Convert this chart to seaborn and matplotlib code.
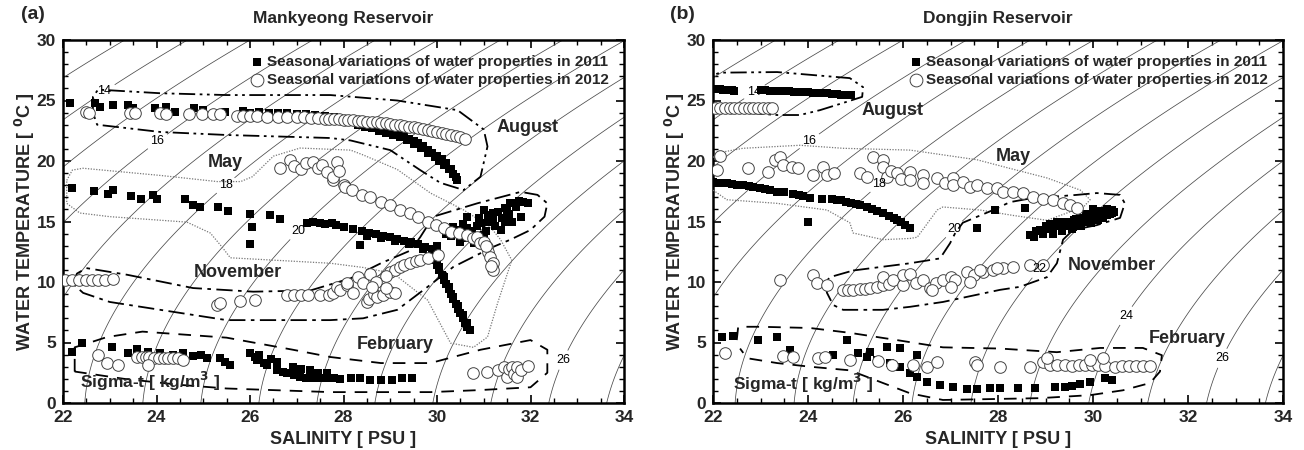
import numpy as np
import pandas as pd
import matplotlib
matplotlib.use("Agg")
import matplotlib.pyplot as plt
import seaborn as sns
from matplotlib.ticker import MultipleLocator

sns.set_theme(style="white")
plt.rcParams["font.family"] = ["Liberation Sans", "DejaVu Sans"]
plt.rcParams["font.weight"] = "bold"

# ---------------- Panel (a) Mankyeong ----------------
a_aug11_S = [22.15, 22.69, 22.8, 23.07, 23.4, 23.5, 23.97, 24.2, 24.4, 24.8, 25.0, 25.47, 25.85, 26.0, 26.2,
             26.4, 26.6, 26.8, 27.0, 27.2, 27.4, 27.6, 27.8, 28.0, 28.1, 28.2, 28.3, 28.4, 28.5, 28.6, 28.7,
             28.8, 28.9, 29.0, 29.1, 29.2, 29.3, 29.4, 29.5, 29.6, 29.7, 29.8, 29.9, 30.0, 30.1, 30.2, 30.3,
             30.35, 30.4, 30.42, 28.3, 28.6, 28.9, 29.2, 29.5, 29.8, 30.05, 30.25, 28.45, 28.75, 29.05,
             29.35, 29.65, 29.95, 30.15]
a_aug11_T = [24.8, 24.8, 24.5, 24.6, 24.6, 24.4, 24.4, 24.5, 24.05, 24.4, 24.2, 24.05, 24.1, 24.0, 24.05,
             24.0, 23.95, 23.95, 23.9, 23.85, 23.8, 23.7, 23.6, 23.5, 23.45, 23.35, 23.25, 23.15, 23.05, 22.95, 22.85,
             22.75, 22.6, 22.5, 22.35, 22.2, 22.05, 21.85, 21.65, 21.45, 21.2, 20.95, 20.7, 20.45, 20.15, 19.85, 19.3,
             18.95, 18.65, 18.4, 23.0, 22.7, 22.35, 21.95, 21.4, 20.7, 20.0, 19.3, 22.85, 22.5, 22.15,
             21.7, 21.1, 20.35, 19.7]
a_aug12_S = [22.5, 22.55, 23.43, 23.55, 24.08, 24.2, 24.7, 24.98, 25.2, 25.35, 25.73, 25.85, 26.0, 26.15, 26.37,
             26.6, 26.8, 27.0, 27.15, 27.3, 27.46, 27.6, 27.7, 27.8, 27.9, 28.0, 28.1, 28.2, 28.3, 28.4, 28.5,
             28.6, 28.72, 28.8, 28.9, 29.0, 29.1, 29.2, 29.3, 29.4, 29.5, 29.6, 29.7, 29.8, 29.9, 30.0, 30.1,
             30.2, 30.3, 30.4, 30.5, 30.6]
a_aug12_T = [24.05, 24.0, 24.0, 23.95, 23.95, 23.9, 23.9, 23.9, 23.9, 23.9, 23.75, 23.75, 23.75, 23.75, 23.65,
             23.65, 23.6, 23.6, 23.6, 23.55, 23.55, 23.5, 23.48, 23.46, 23.44, 23.42, 23.4, 23.37, 23.33, 23.3, 23.26,
             23.22, 23.2, 23.15, 23.1, 23.05, 23.0, 22.95, 22.9, 22.85, 22.8, 22.72, 22.65, 22.57, 22.5, 22.42, 22.35,
             22.27, 22.18, 22.08, 21.97, 21.85]
a_may11_S = [22.2, 22.66, 22.96, 23.07, 23.46, 23.67, 23.93, 24.0, 24.6, 24.78, 24.93, 25.32, 25.53, 26.0, 26.05,
             26.0, 26.43, 26.65, 27.22, 27.35, 27.5, 27.6, 27.75, 27.85, 28.0, 28.36, 28.2, 28.4, 28.55, 28.7, 28.85,
             29.0, 29.15, 29.3, 29.45, 29.6, 29.75, 29.9, 30.0, 28.5, 28.8, 29.1, 29.4, 29.7]
a_may11_T = [17.8, 17.5, 17.3, 17.6, 17.1, 16.9, 17.2, 16.85, 16.85, 16.4, 16.2, 16.2, 15.9, 15.6, 14.55,
             13.1, 15.5, 15.2, 14.9, 14.95, 14.9, 14.8, 14.85, 14.7, 14.55, 13.05, 14.4, 14.2, 14.05, 13.95, 13.8,
             13.7, 13.55, 13.4, 13.3, 13.1, 12.9, 12.7, 12.5, 13.8, 13.6, 13.35, 13.1, 12.75]
a_may12_S = [26.65, 26.86, 26.95, 27.1, 27.2, 27.35, 27.45, 27.55, 27.65, 27.78, 27.78, 27.87, 27.9, 28.0, 28.04,
             28.19, 28.4, 28.57, 28.8, 29.0, 29.2, 29.43, 29.6, 29.8, 29.97, 30.14, 30.29, 30.46, 30.65, 30.78,
             30.86, 30.93, 31.0, 31.08, 31.1, 31.14, 31.19, 31.19, 31.15, 31.05]
a_may12_T = [19.4, 20.1, 19.6, 19.3, 19.8, 19.9, 19.4, 19.7, 19.1, 18.4, 18.7, 19.9, 19.2, 18.0, 17.85,
             17.6, 17.2, 17.0, 16.6, 16.35, 15.95, 15.7, 15.4, 14.95, 14.7, 14.45, 14.15, 14.05, 13.9, 13.6,
             13.7, 13.2, 13.3, 12.9, 12.5, 12.05, 11.55, 11.0, 11.3, 13.0]
a_nov11_S = [29.9, 29.95, 30.0, 30.05, 30.1, 30.15, 30.2, 30.25, 30.3, 30.35, 30.4, 30.45, 30.5, 30.55, 30.6,
             30.65, 30.7, 30.0, 30.2, 30.35, 30.5, 30.5, 30.65, 30.65, 30.7, 30.86, 30.86, 30.9, 31.0, 31.05,
             31.1, 31.2, 31.25, 31.36, 31.4, 31.45, 31.57, 31.55, 31.7, 31.79, 31.85, 31.94, 31.6, 30.8,
             30.3, 30.6, 30.75, 30.95, 31.1, 31.3, 31.5, 31.65, 31.75, 30.55, 30.4, 31.2, 31.45, 31.0,
             29.95, 30.05, 30.15, 30.25, 30.35, 30.45, 30.55, 30.65]
a_nov11_T = [12.2, 11.8, 11.4, 11.0, 10.6, 10.2, 9.8, 9.4, 9.0, 8.6, 8.2, 7.8, 7.4, 7.0, 6.6,
             6.3, 6.0, 13.0, 14.0, 14.55, 13.3, 14.0, 15.4, 14.5, 13.8, 13.7, 14.6, 15.3, 15.95, 14.2,
             15.0, 15.7, 14.6, 14.3, 15.3, 16.1, 16.5, 15.6, 16.2, 15.4, 16.6, 16.5, 15.0, 13.2,
             13.8, 13.6, 14.2, 14.9, 15.5, 15.8, 15.9, 16.5, 16.7, 14.8, 14.3, 15.1, 15.0, 13.9,
             12.0, 11.2, 10.4, 9.6, 8.8, 8.0, 7.3, 6.6]
a_nov12_S = [22.04, 22.2, 22.35, 22.5, 22.62, 22.75, 22.9, 23.07, 25.3, 25.36, 25.79, 26.1, 26.8, 26.95, 27.1,
             27.25, 27.5, 27.7, 27.78, 27.87, 27.93, 28.08, 28.08, 28.21, 28.3, 28.42, 28.51, 28.55, 28.57, 28.65,
             28.72, 28.8, 28.85, 29.0, 29.0, 29.1, 29.1, 29.2, 29.3, 29.43, 29.55, 29.64, 29.8, 30.03, 28.9,
             28.7, 28.6, 28.9]
a_nov12_T = [10.15, 10.2, 10.2, 10.2, 10.2, 10.2, 10.2, 10.25, 8.1, 8.25, 8.45, 8.5, 8.9, 8.9, 8.9,
             8.9, 8.9, 8.95, 9.1, 9.6, 9.35, 9.75, 9.9, 9.1, 10.4, 9.9, 8.35, 8.6, 10.7, 9.0,
             8.75, 10.15, 8.9, 9.2, 10.8, 9.1, 11.0, 11.25, 11.4, 11.55, 11.7, 11.8, 12.0, 12.2, 10.5,
             10.0, 9.6, 9.5]
a_feb11_S = [22.2, 22.4, 23.05, 23.4, 23.58, 23.82, 24.08, 24.36, 24.57, 24.78, 24.95, 25.08, 25.36, 25.47, 25.58,
             26.0, 26.1, 26.15, 26.2, 26.3, 26.37, 26.45, 26.58, 26.58, 26.7, 26.8, 26.92, 26.95, 27.07, 27.1,
             27.2, 27.29, 27.35, 27.45, 27.5, 27.65, 27.65, 27.8, 27.93, 28.15, 28.36, 28.57, 28.8, 29.04, 29.26,
             29.47]
a_feb11_T = [4.2, 4.95, 4.65, 4.15, 4.45, 4.2, 4.1, 3.95, 4.1, 3.9, 4.0, 3.7, 3.7, 3.4, 3.15,
             4.15, 3.8, 3.55, 3.95, 3.3, 3.15, 3.6, 2.75, 3.4, 2.6, 2.45, 3.0, 2.3, 2.15, 2.8,
             2.1, 2.7, 2.05, 2.5, 2.05, 2.05, 2.45, 2.1, 2.0, 2.05, 2.05, 1.9, 1.9, 1.9, 2.05,
             2.05]
a_feb12_S = [22.75, 22.94, 23.18, 23.58, 23.68, 23.78, 23.85, 23.95, 24.05, 24.15, 24.25, 24.35, 24.45, 24.57, 23.82,
             30.78, 31.08, 31.3, 31.43, 31.5, 31.55, 31.6, 31.65, 31.72, 31.72, 31.8, 31.94]
a_feb12_T = [3.95, 3.3, 3.15, 3.8, 3.8, 3.8, 3.8, 3.75, 3.75, 3.75, 3.7, 3.7, 3.7, 3.55, 3.1,
             2.45, 2.55, 2.7, 3.0, 2.15, 2.8, 3.0, 2.4, 3.0, 2.15, 2.7, 3.05]

# outlines (a)
a_aug_line_S = [22.64, 22.64, 22.75, 24.08, 25.5, 26.9, 27.72, 29.15, 30.44, 31.0, 31.08, 30.93, 30.57, 30.07,
                29.64, 29.0, 28.15, 27.72, 25.5, 24.08, 22.73, 22.64]
a_aug_line_T = [24.0, 25.3, 25.9, 25.6, 25.45, 25.45, 25.45, 25.0, 24.2, 22.6, 21.2, 18.7, 17.6, 18.2,
                19.25, 20.9, 21.7, 21.9, 22.15, 22.4, 23.0, 24.0]
a_may_line_S = [22.08, 22.2, 22.43, 24.1, 25.3, 25.8, 26.05, 26.5, 27.07, 28.15, 28.42, 29.15, 29.86, 30.57,
                31.14, 31.36, 31.6, 31.3, 31.08, 30.78, 30.29, 29.8, 29.07, 28.42, 27.72, 25.58, 25.4, 25.15,
                24.65, 23.0, 22.36, 22.08, 22.08]
a_may_line_T = [18.4, 19.25, 19.4, 18.8, 18.3, 18.3, 18.7, 20.4, 21.07, 20.9, 20.5, 19.3, 17.35, 15.95,
                14.55, 13.5, 11.8, 8.3, 5.45, 4.6, 4.95, 8.5, 10.7, 11.2, 11.55, 12.0, 12.9, 14.05,
                14.95, 15.4, 15.7, 16.5, 18.4]
a_nov_line_S = [22.2, 22.3, 22.5, 23.37, 24.78, 26.07, 27.29, 28.15, 28.8, 29.43, 29.64, 29.92, 30.86, 31.79,
                32.15, 32.36, 32.3, 32.0, 31.57, 31.2, 30.35, 29.8, 29.15, 28.42, 27.72, 25.5, 24.08, 23.0,
                22.43, 22.2]
a_nov_line_T = [9.9, 10.7, 11.15, 10.6, 9.5, 9.2, 9.3, 10.3, 11.55, 12.6, 13.7, 15.4, 16.5, 17.45,
                17.2, 16.5, 15.4, 14.3, 13.5, 12.9, 11.25, 9.6, 7.7, 7.0, 6.85, 6.85, 7.7, 8.35,
                9.1, 9.9]
a_feb_line_S = [22.25, 22.25, 22.5, 22.94, 23.7, 25.5, 26.92, 27.72, 28.8, 29.86, 30.93, 32.0, 32.36, 32.36,
                32.0, 30.93, 29.86, 27.72, 25.5, 24.5, 23.3, 22.25]
a_feb_line_T = [2.6, 4.6, 4.9, 5.45, 5.9, 5.4, 4.4, 3.8, 3.3, 3.3, 4.4, 5.2, 4.4, 2.5,
                1.3, 1.07, 0.9, 0.9, 1.2, 1.5, 2.0, 2.6]

# ---------------- Panel (b) Dongjin ----------------
b_aug11_S = [22.0, 22.05, 22.1, 22.15, 22.2, 22.25, 22.3, 22.35, 22.4, 22.45, 23.0, 23.1, 23.2, 23.3, 23.4,
             23.5, 23.6, 23.7, 23.8, 23.9, 24.0, 24.1, 24.2, 24.3, 24.4, 24.5, 24.6, 24.7, 24.8, 24.9]
b_aug11_T = [25.95, 25.95, 25.93, 25.92, 25.9, 25.9, 25.88, 25.86, 25.85, 25.82, 25.85, 25.83, 25.82, 25.8, 25.78,
             25.76, 25.75, 25.73, 25.71, 25.69, 25.67, 25.65, 25.63, 25.6, 25.58, 25.55, 25.52, 25.48, 25.45, 25.42]
b_aug12_S = [22.05, 22.15, 22.25, 22.35, 22.45, 22.55, 22.65, 22.75, 22.85, 22.95, 23.05, 23.15, 23.25]
b_aug12_T = [24.4, 24.4, 24.4, 24.4, 24.4, 24.4, 24.4, 24.4, 24.4, 24.4, 24.4, 24.4, 24.4]
b_may11_S = [22.0, 22.1, 22.21, 22.3, 22.4, 22.5, 22.63, 22.75, 22.85, 22.99, 23.1, 23.2, 23.35, 23.5, 23.68,
             23.8, 23.9, 24.04, 24.29, 24.5, 24.6, 24.7, 24.8, 24.9, 25.0, 25.1, 25.24, 25.35, 25.45, 25.58,
             25.7, 25.8, 25.87, 25.95, 26.05, 26.15, 24.0]
b_may11_T = [18.3, 18.2, 18.2, 18.15, 18.1, 18.05, 18.0, 17.9, 17.85, 17.8, 17.7, 17.6, 17.45, 17.4, 17.3,
             17.2, 17.1, 16.95, 16.9, 16.85, 16.8, 16.75, 16.65, 16.55, 16.45, 16.35, 16.2, 16.05, 15.9, 15.7,
             15.45, 15.25, 15.1, 14.95, 14.75, 14.5, 15.0]
b_may12_S = [22.15, 22.08, 22.74, 23.16, 23.3, 23.41, 23.47, 23.66, 23.79, 24.1, 24.31, 24.4, 24.55, 25.09, 25.24,
             25.37, 25.58, 25.58, 25.66, 25.75, 25.87, 25.95, 26.15, 26.15, 26.42, 26.42, 26.72, 26.88, 27.05,
             27.05, 27.26, 27.41, 27.55, 27.77, 27.98, 28.1, 28.32, 28.53, 28.74, 28.95, 29.16, 29.37, 29.52,
             29.66]
b_may12_T = [20.4, 19.25, 19.4, 19.1, 20.1, 20.35, 19.65, 19.5, 19.4, 18.85, 19.5, 18.85, 19.0, 19.0, 18.7,
             20.35, 20.1, 19.5, 18.7, 19.2, 19.0, 18.55, 19.1, 18.4, 18.85, 18.2, 18.6, 18.2, 18.6,
             18.0, 18.3, 17.85, 18.0, 17.75, 17.75, 17.45, 17.45, 17.35, 17.0, 16.9, 16.8, 16.5, 16.35,
             16.1]
b_nov11_S = [27.55, 27.94, 28.57, 28.67, 28.8, 28.88, 29.0, 29.09, 29.16, 29.2, 29.3, 29.37, 29.45, 29.52, 29.58,
             29.65, 29.73, 29.8, 29.85, 29.94, 30.0, 30.05, 30.15, 30.25, 30.3, 30.4, 30.45, 29.1, 29.25,
             28.75, 28.95, 29.15, 29.35, 29.55, 29.75, 29.95, 30.1, 30.2, 30.35, 29.6, 29.9, 30.1, 30.3,
             30.4, 29.4, 29.0]
b_nov11_T = [14.45, 15.95, 16.1, 13.9, 14.2, 14.3, 14.35, 14.45, 14.15, 14.6, 14.7, 15.0, 14.6, 14.95, 14.55,
             15.2, 15.3, 15.0, 15.6, 15.5, 16.0, 15.3, 15.7, 15.9, 15.5, 15.95, 15.8, 14.8, 15.0,
             13.7, 13.95, 14.0, 14.25, 14.4, 14.6, 14.9, 15.1, 15.3, 15.6, 15.1, 15.3, 15.9, 16.0,
             15.7, 14.9, 14.6]
b_nov12_S = [23.41, 24.1, 24.19, 24.4, 24.74, 24.85, 24.95, 25.1, 25.2, 25.3, 25.45, 25.58, 25.58, 25.7, 25.79,
             26.0, 26.0, 26.15, 26.28, 26.42, 26.57, 26.7, 26.84, 27.0, 27.1, 27.35, 27.5, 27.69, 27.9, 28.1,
             27.62, 27.98, 28.32, 28.67, 28.95, 26.6, 27.0, 27.4]
b_nov12_T = [10.15, 10.55, 9.9, 9.75, 9.35, 9.35, 9.35, 9.4, 9.45, 9.5, 9.6, 9.75, 10.4, 9.8, 10.15,
             9.75, 10.55, 10.7, 9.9, 10.15, 9.5, 9.9, 10.15, 10.4, 10.2, 10.8, 10.6, 10.8, 11.0, 11.15,
             11.0, 11.15, 11.25, 11.4, 11.4, 9.3, 9.6, 10.0]
b_feb11_S = [22.19, 22.42, 22.95, 23.35, 23.62, 24.82, 24.53, 25.05, 25.3, 25.66, 25.94, 26.29, 25.24, 25.45, 25.73,
             25.94, 26.15, 26.29, 26.5, 26.78, 27.05, 27.35, 27.56, 27.83, 28.04, 28.42, 28.78, 29.2, 29.4,
             29.56, 29.73, 29.94, 30.25, 30.4]
b_feb11_T = [5.45, 5.5, 5.2, 5.45, 4.4, 5.2, 3.95, 4.15, 4.2, 4.6, 4.55, 3.95, 3.8, 3.55, 3.3,
             3.0, 2.5, 2.15, 1.75, 1.5, 1.3, 1.15, 1.15, 1.2, 1.2, 1.25, 1.25, 1.3, 1.35,
             1.4, 1.55, 1.75, 2.05, 1.9]
b_feb12_S = [22.25, 23.47, 23.68, 24.21, 24.36, 24.88, 25.47, 25.77, 26.21, 26.5, 26.72, 27.52, 27.56, 28.04, 28.67,
             28.95, 29.1, 29.24, 29.4, 29.55, 29.7, 29.83, 29.97, 30.1, 30.25, 30.46, 30.6, 30.75, 30.9, 31.05,
             31.2, 29.03, 29.94, 30.21]
b_feb12_T = [4.15, 3.9, 3.8, 3.7, 3.8, 3.55, 3.45, 3.15, 3.15, 3.0, 3.4, 3.4, 3.15, 3.0, 3.0,
             3.4, 3.1, 3.15, 3.1, 3.05, 3.15, 3.15, 3.1, 3.15, 3.05, 3.0, 3.05, 3.05, 3.05, 3.05,
             3.05, 3.7, 3.55, 3.7]

b_aug_line_S = [22.0, 22.5, 23.35, 23.83, 24.25, 24.74, 25.14, 25.16, 24.88, 23.35, 22.15, 22.0]
b_aug_line_T = [24.5, 24.05, 23.8, 23.8, 24.2, 24.8, 25.3, 26.1, 26.85, 27.35, 27.3, 27.1]
b_may_line_S = [22.0, 22.15, 22.63, 23.83, 24.74, 26.15, 27.56, 28.19, 29.03, 29.73, 29.94, 29.8, 29.03, 28.32,
                27.62, 26.84, 26.72, 26.3, 26.15, 25.58, 24.95, 24.88, 24.4, 23.35, 22.29, 22.0]
b_may_line_T = [20.3, 20.7, 21.05, 21.3, 21.05, 20.9, 20.1, 19.45, 18.6, 17.6, 16.8, 16.2, 15.1, 15.5,
                15.95, 16.2, 15.95, 13.7, 13.6, 13.5, 14.05, 14.9, 15.95, 16.5, 16.8, 17.6]
b_nov_line_S = [24.95, 26.15, 26.78, 26.99, 27.1, 27.26, 27.9, 28.25, 28.67, 29.66, 30.08, 30.57, 30.67, 30.57,
                30.08, 29.58, 29.37, 29.24, 29.03, 28.46, 28.04, 26.84, 26.15, 25.58, 24.74, 24.53, 24.4, 24.36,
                24.46, 24.95]
b_nov_line_T = [10.95, 11.55, 11.95, 13.2, 14.05, 14.9, 15.95, 16.6, 16.9, 17.2, 17.35, 17.2, 16.5, 15.3,
                14.7, 14.3, 13.5, 11.55, 10.4, 9.6, 9.35, 8.35, 7.95, 7.7, 7.7, 8.1, 9.1, 9.9,
                10.4, 10.95]
b_feb_line_S = [22.5, 22.53, 22.99, 24.04, 24.88, 25.87, 26.84, 28.04, 29.24, 30.15, 31.05, 31.45, 31.41, 31.2,
                30.63, 29.94, 28.88, 26.84, 26.15, 25.58, 24.88, 24.04, 23.35, 22.72, 22.57]
b_feb_line_T = [5.2, 6.3, 6.3, 6.2, 5.8, 5.2, 4.6, 4.5, 4.2, 4.55, 4.55, 3.95, 2.6, 1.65,
                1.05, 0.65, 0.4, 0.25, 0.8, 1.65, 2.7, 3.0, 3.3, 3.7, 4.5]

sigma_levels = list(range(8, 31))
a_label_levels = [14, 16, 18, 20, 26]
a_label_pos = [(22.9, 25.7), (24.06, 21.5), (25.53, 17.85), (27.07, 14.1), (32.7, 3.55)]
b_label_levels = [14, 16, 18, 20, 22, 24, 26]
b_label_pos = [(22.7, 26.3), (23.94, 21.9), (25.45, 18.2), (26.99, 14.55), (28.82, 11.15), (30.63, 7.3), (32.72, 3.7)]

legend_2011 = "Seasonal variations of water properties in 2011"
legend_2012 = "Seasonal variations of water properties in 2012"


def sigma_t(S, T):
    rw = (999.842594 + 6.793952e-2 * T - 9.095290e-3 * T**2 + 1.001685e-4 * T**3
          - 1.120083e-6 * T**4 + 6.536332e-9 * T**5)
    A = 8.24493e-1 - 4.0899e-3 * T + 7.6438e-5 * T**2 - 8.2467e-7 * T**3 + 5.3875e-9 * T**4
    B = -5.72466e-3 + 1.0227e-4 * T - 1.6546e-6 * T**2
    return rw + A * S + B * S**1.5 + 4.8314e-4 * S**2 - 1000.0


fig = plt.figure(figsize=(13.04, 4.5), dpi=100)
axA = fig.add_axes([63 / 1304, 47 / 450, 561 / 1304, 363 / 450])
axB = fig.add_axes([713 / 1304, 47 / 450, 570 / 1304, 363 / 450])

line_styles = {
    "aug": dict(color="black", lw=1.3, ls=(0, (9, 2.5, 1.5, 2.5, 1.5, 2.5))),
    "may": dict(color="#777777", lw=0.9, ls=(0, (1, 1.2))),
    "nov": dict(color="black", lw=1.3, ls=(0, (9, 3, 2, 3))),
    "feb": dict(color="black", lw=1.3, ls=(0, (7, 5))),
}
iso_color = "#4a4a4a"


def draw_panel(ax, sq, ci, lines, lab_levels, lab_pos, title, tag, months, sig_pos):
    Sg, Tg = np.meshgrid(np.linspace(19, 37, 300), np.linspace(-2, 32, 300))
    sig = sigma_t(Sg, Tg)
    plain = [lv for lv in sigma_levels if lv not in lab_levels]
    ax.contour(Sg, Tg, sig, levels=plain, colors=iso_color, linewidths=0.55, zorder=1)
    cs = ax.contour(Sg, Tg, sig, levels=lab_levels, colors=iso_color, linewidths=0.55, zorder=1)
    texts = ax.clabel(cs, manual=lab_pos, fmt="%d", fontsize=9,
                      inline=True, inline_spacing=2, colors="black")
    for t in texts:
        t.set_rotation(0)
        t.set_fontweight("normal")
        t.set_zorder(6)

    for key, (ls_, lt_) in lines.items():
        sns.lineplot(x=ls_, y=lt_, ax=ax, sort=False, estimator=None, zorder=3, **line_styles[key])

    d11 = pd.DataFrame({"S": sum([s for s, t in sq], []), "T": sum([t for s, t in sq], [])})
    d12 = pd.DataFrame({"S": sum([s for s, t in ci], []), "T": sum([t for s, t in ci], [])})
    sns.scatterplot(data=d11, x="S", y="T", ax=ax, marker="s", s=30, color="black",
                    edgecolor="black", linewidth=0, label=legend_2011, zorder=4)
    sns.scatterplot(data=d12, x="S", y="T", ax=ax, marker="o", s=70, color="white",
                    edgecolor="#444444", linewidth=0.7, label=legend_2012, zorder=5)

    for txt, (x, y) in months.items():
        ax.text(x, y, txt, ha="center", va="center", fontsize=13, fontweight="bold", zorder=6)
    ax.text(sig_pos[0], sig_pos[1], r"Sigma-t [ kg/m$^\mathbf{3}$ ]", ha="left", va="center",
            fontsize=12.5, fontweight="bold", zorder=6)

    ax.set_xlim(22, 34)
    ax.set_ylim(0, 30)
    ax.xaxis.set_major_locator(MultipleLocator(2))
    ax.xaxis.set_minor_locator(MultipleLocator(0.5))
    ax.yaxis.set_major_locator(MultipleLocator(5))
    ax.yaxis.set_minor_locator(MultipleLocator(1))
    ax.tick_params(which="both", direction="in", top=True, right=True, bottom=True, left=True,
                   color="black")
    ax.tick_params(which="major", length=6, width=1.2, labelsize=12.5)
    ax.tick_params(axis="x", which="major", pad=5)
    ax.tick_params(axis="y", which="major", pad=5)
    ax.tick_params(which="minor", length=3.5, width=1.0)
    for lab in ax.get_xticklabels() + ax.get_yticklabels():
        lab.set_fontweight("bold")
    for sp in ax.spines.values():
        sp.set_linewidth(1.8)
        sp.set_color("black")
    ax.set_xlabel("SALINITY [ PSU ]", fontsize=13, fontweight="bold", labelpad=4)
    ax.set_ylabel(r"WATER TEMPERATURE [ $^\mathbf{0}$C ]", fontsize=13, fontweight="bold", labelpad=0)
    ax.set_title(title, fontsize=12.5, fontweight="bold", pad=12)
    ax.text(-0.075, 1.07, tag, transform=ax.transAxes, fontsize=14, fontweight="bold",
            ha="left", va="center")
    leg = ax.legend(loc="upper right", bbox_to_anchor=(1.0, 1.0), frameon=False, fontsize=11,
                    handletextpad=0.1, labelspacing=0.25, borderaxespad=0.6, markerscale=1.1,
                    handlelength=1.1)
    for t in leg.get_texts():
        t.set_fontweight("bold")


draw_panel(axA,
           [(a_aug11_S, a_aug11_T), (a_may11_S, a_may11_T), (a_nov11_S, a_nov11_T), (a_feb11_S, a_feb11_T)],
           [(a_aug12_S, a_aug12_T), (a_may12_S, a_may12_T), (a_nov12_S, a_nov12_T), (a_feb12_S, a_feb12_T)],
           {"aug": (a_aug_line_S, a_aug_line_T), "may": (a_may_line_S, a_may_line_T),
            "nov": (a_nov_line_S, a_nov_line_T), "feb": (a_feb_line_S, a_feb_line_T)},
           a_label_levels, a_label_pos, "Mankyeong Reservoir", "(a)",
           {"August": (31.93, 22.8), "May": (25.47, 19.9), "November": (25.73, 10.8), "February": (29.1, 4.8)},
           (22.36, 1.75))
draw_panel(axB,
           [(b_aug11_S, b_aug11_T), (b_may11_S, b_may11_T), (b_nov11_S, b_nov11_T), (b_feb11_S, b_feb11_T)],
           [(b_aug12_S, b_aug12_T), (b_may12_S, b_may12_T), (b_nov12_S, b_nov12_T), (b_feb12_S, b_feb12_T)],
           {"aug": (b_aug_line_S, b_aug_line_T), "may": (b_may_line_S, b_may_line_T),
            "nov": (b_nov_line_S, b_nov_line_T), "feb": (b_feb_line_S, b_feb_line_T)},
           b_label_levels, b_label_pos, "Dongjin Reservoir", "(b)",
           {"August": (25.77, 24.2), "May": (28.32, 20.35), "November": (30.4, 11.4), "February": (31.98, 5.35)},
           (22.42, 1.6))

fig.savefig("out.png", dpi=100)
